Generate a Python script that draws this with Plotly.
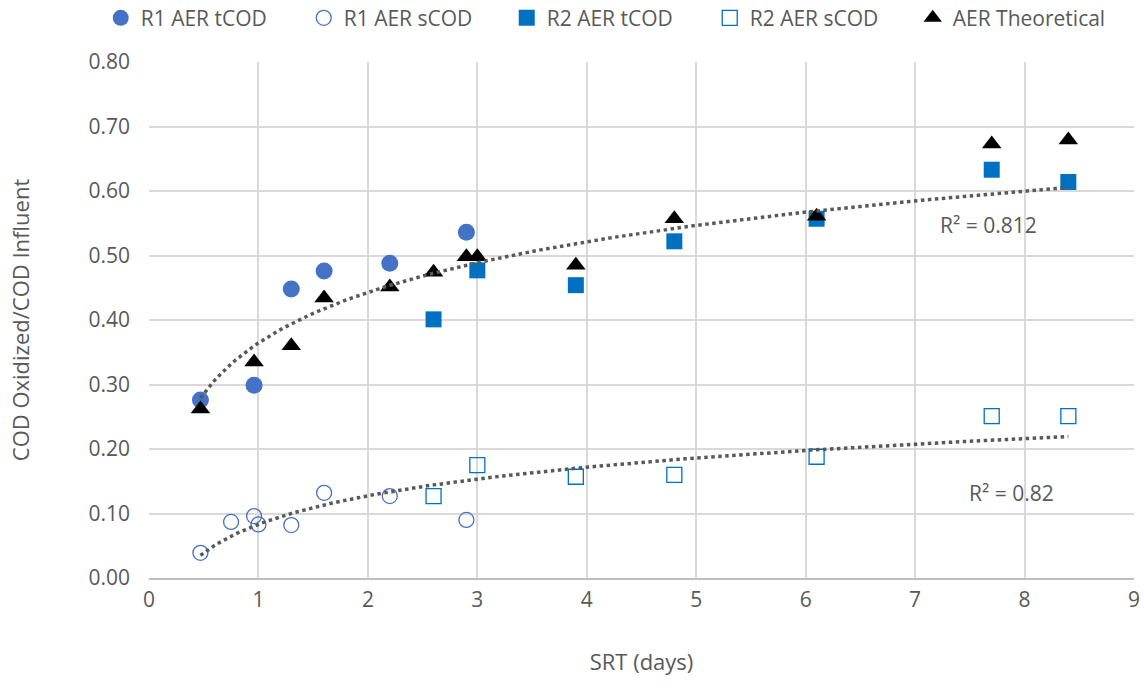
import numpy as np
import plotly.graph_objects as go

# ---- data ----
r1_x = [0.47, 0.96, 1.3, 1.6, 2.2, 2.9]
r1_tcod = [0.276, 0.299, 0.448, 0.476, 0.488, 0.536]
r1s_x = [0.47, 0.75, 0.96, 1.0, 1.3, 1.6, 2.2, 2.9]
r1_scod = [0.039, 0.087, 0.096, 0.083, 0.082, 0.132, 0.127, 0.090]
r2_x = [2.6, 3.0, 3.9, 4.8, 6.1, 7.7, 8.4]
r2_tcod = [0.401, 0.477, 0.454, 0.522, 0.557, 0.633, 0.614]
r2_scod = [0.127, 0.175, 0.157, 0.160, 0.188, 0.251, 0.251]
th_x = [0.47, 0.96, 1.3, 1.6, 2.2, 2.6, 2.9, 3.0, 3.9, 4.8, 6.1, 7.7, 8.4]
th_y = [0.262, 0.335, 0.360, 0.434, 0.451, 0.474, 0.498, 0.498, 0.485, 0.557, 0.561, 0.673, 0.679]
r2_labels = ["R² = 0.812", "R² = 0.82"]

GRAY = "#595959"
C1 = "#4472C4"
C2 = "#0070C0"
FONT = "Open Sans, sans-serif"

fig = go.Figure()
fig.add_trace(go.Scatter(x=r1_x, y=r1_tcod, mode="markers", name="R1 AER tCOD",
                         marker=dict(symbol="circle", size=17, color=C1)))
fig.add_trace(go.Scatter(x=r1s_x, y=r1_scod, mode="markers", name="R1 AER sCOD",
                         marker=dict(symbol="circle-open", size=15, color=C1, line=dict(width=1.3, color=C1))))
fig.add_trace(go.Scatter(x=r2_x, y=r2_tcod, mode="markers", name="R2 AER tCOD",
                         marker=dict(symbol="square", size=16, color=C2)))
fig.add_trace(go.Scatter(x=r2_x, y=r2_scod, mode="markers", name="R2 AER sCOD",
                         marker=dict(symbol="square-open", size=15, color=C2, line=dict(width=1.3, color=C2))))
fig.add_trace(go.Scatter(x=th_x, y=th_y, mode="markers", name="AER Theoretical",
                         marker=dict(symbol="triangle-up", size=17, color="black")))

# logarithmic trendlines fitted from the data
def logfit(xs, ys):
    xs = np.asarray(xs, float); ys = np.asarray(ys, float)
    a, b = np.polyfit(np.log(xs), ys, 1)
    xx = np.linspace(xs.min(), xs.max(), 200)
    return xx, a * np.log(xx) + b

tx, ty = logfit(r1_x + r2_x, r1_tcod + r2_tcod)
sx, sy = logfit(r1s_x + r2_x, r1_scod + r2_scod)
for xx, yy in [(tx, ty), (sx, sy)]:
    fig.add_trace(go.Scatter(x=xx, y=yy, mode="lines", showlegend=False, hoverinfo="skip",
                             line=dict(color=GRAY, width=3.5, dash="dot")))

fig.add_annotation(x=7.67, y=0.547, text=r2_labels[0], showarrow=False,
                   font=dict(size=21, color=GRAY, family=FONT))
fig.add_annotation(x=7.88, y=0.132, text=r2_labels[1], showarrow=False,
                   font=dict(size=21, color=GRAY, family=FONT))

fig.update_layout(
    width=1144, height=691,
    margin=dict(l=149, r=10, t=62, b=113, autoexpand=False),
    paper_bgcolor="white", plot_bgcolor="white",
    font=dict(family=FONT, color=GRAY, size=21),
    legend=dict(orientation="h", x=-0.049, xanchor="left", y=1.085, yanchor="middle",
                font=dict(size=21, color=GRAY, family=FONT), itemsizing="trace",
                tracegroupgap=0, itemwidth=30, entrywidth=158, entrywidthmode="pixels"),
    xaxis=dict(range=[0, 9], dtick=1, tick0=0, showgrid=True, gridcolor="#D9D9D9", gridwidth=2,
               zeroline=False, showline=True, linecolor="#BFBFBF", linewidth=2,
               ticks="", tickfont=dict(size=21, color=GRAY), ticklabelstandoff=2,
               title=dict(text="SRT (days)", font=dict(size=22, color=GRAY), standoff=42)),
    yaxis=dict(range=[0, 0.8], dtick=0.1, tickformat=".2f", showgrid=True, gridcolor="#D9D9D9",
               gridwidth=2, zeroline=False, showline=False, ticks="",
               tickfont=dict(size=21, color=GRAY), ticklabelstandoff=18,
               title=dict(text="COD Oxidized/COD Influent", font=dict(size=22, color=GRAY), standoff=52)),
)

fig.write_html("out.html")
